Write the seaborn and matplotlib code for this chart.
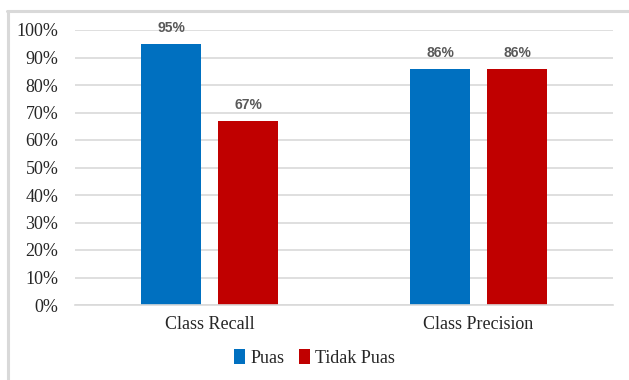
import matplotlib
matplotlib.use("Agg")
import matplotlib.pyplot as plt
from matplotlib.lines import Line2D
from matplotlib.patches import Patch
from matplotlib.font_manager import FontProperties
from matplotlib.ticker import PercentFormatter
import seaborn as sns
import pandas as pd

categories = ["Class Recall", "Class Precision"]
series = ["Puas", "Tidak Puas"]
puas = [95, 86]
tidak_puas = [67, 86]
colors = ["#0070C0", "#C00000"]

df = pd.DataFrame({
    "metric": categories * 2,
    "kelas": [series[0]] * 2 + [series[1]] * 2,
    "value": puas + tidak_puas,
})

sns.set_theme(style="white")
serif = ["Liberation Serif", "DejaVu Serif"]
plt.rcParams["font.family"] = serif

fig = plt.figure(figsize=(6.29, 3.80), dpi=100)
ax = fig.add_axes([75 / 629, 1 - 305 / 380, (613 - 75) / 629, (305 - 30) / 380])

sns.barplot(data=df, x="metric", y="value", hue="kelas", order=categories,
            hue_order=series, palette=colors, width=0.573, gap=0.21,
            saturation=1, legend=False, linewidth=0, ax=ax)

ax.set_ylim(0, 100)
ax.set_xlim(-0.5, 1.5)
ax.set_yticks(range(0, 101, 10))
ax.yaxis.set_major_formatter(PercentFormatter(decimals=0))
ax.grid(axis="y", color="#D9D9D9", linewidth=1.2)
ax.set_axisbelow(True)
for side in ["top", "right", "left"]:
    ax.spines[side].set_visible(False)
ax.spines["bottom"].set_color("#D9D9D9")
ax.spines["bottom"].set_linewidth(1.2)
ax.tick_params(axis="y", length=0, pad=12, labelsize=13, labelcolor="#262626")
ax.tick_params(axis="x", length=0, pad=8, labelsize=13, labelcolor="#262626")
for lbl in ax.get_xticklabels() + ax.get_yticklabels():
    lbl.set_family(serif)
ax.set_xlabel("")
ax.set_ylabel("")

for container in ax.containers:
    ax.bar_label(container, fmt="%d%%", padding=6, fontsize=10,
                 fontweight="bold", color="#595959",
                 family=["Liberation Sans", "DejaVu Sans"])

handles = [Patch(facecolor=c, edgecolor="none") for c in colors]
fig.legend(handles, series, loc="center", bbox_to_anchor=(0.5, 1 - 358 / 380),
           ncol=2, frameon=False,
           prop=FontProperties(family=serif, size=13),
           handlelength=0.6, handleheight=0.9, handletextpad=0.3,
           columnspacing=0.8)

# outer chart frame (top and left edges)
fig.add_artist(Line2D([7 / 629, 1.0], [1 - 11 / 380] * 2, color="#D9D9D9",
                      linewidth=2.2, transform=fig.transFigure))
fig.add_artist(Line2D([8 / 629] * 2, [1 - 11 / 380, 0.0], color="#D9D9D9",
                      linewidth=2.2, transform=fig.transFigure))

fig.savefig("out.png", dpi=100)
